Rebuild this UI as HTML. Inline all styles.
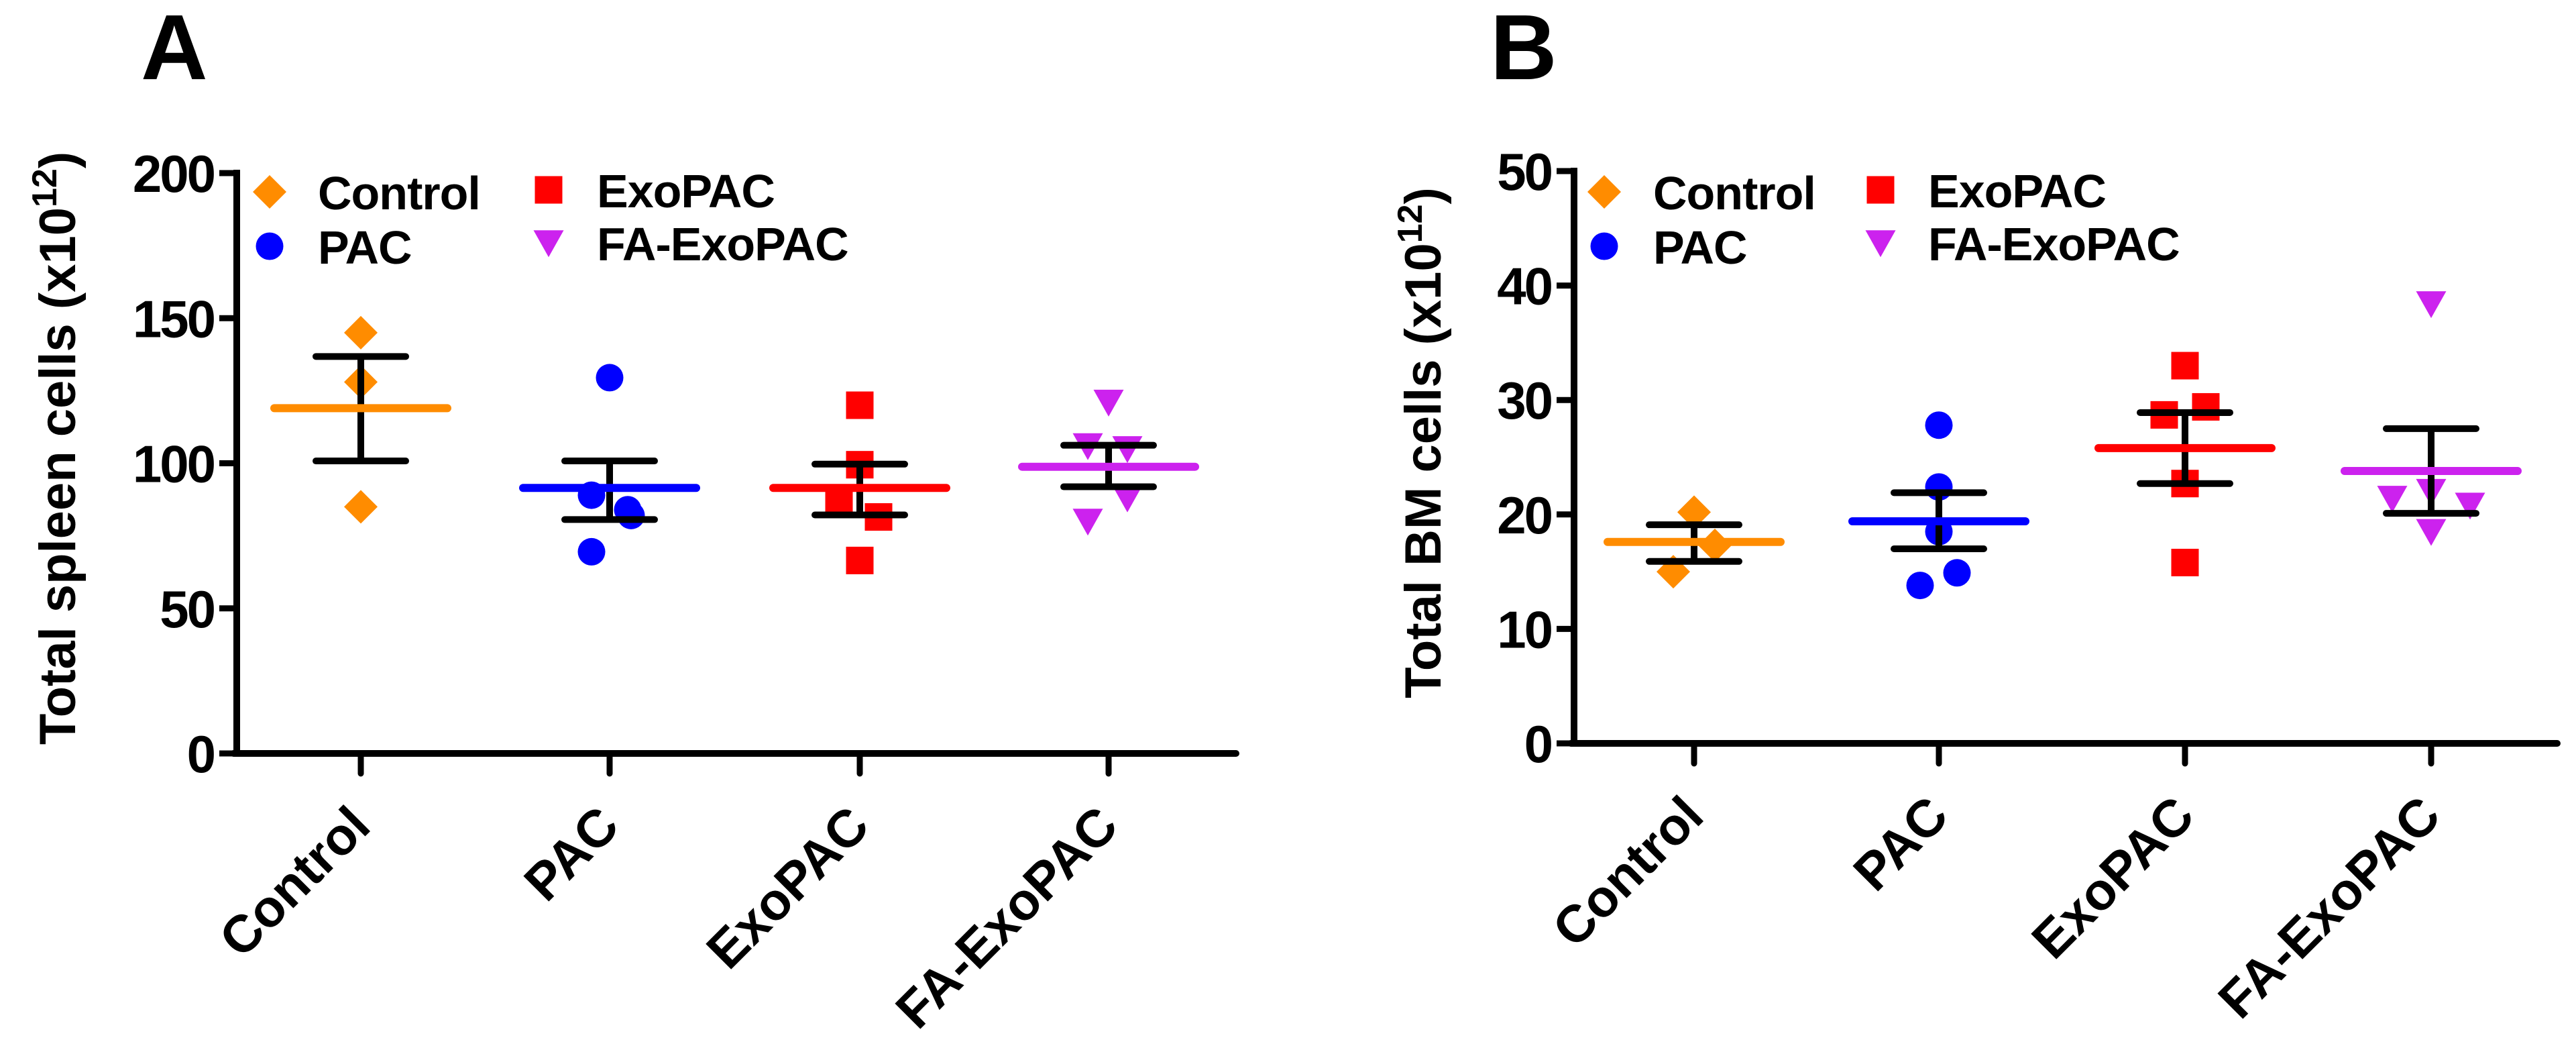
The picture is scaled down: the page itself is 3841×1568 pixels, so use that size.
<!DOCTYPE html>
<html><head><meta charset="utf-8"><style>
html,body{margin:0;padding:0;background:#fff;}
svg{display:block;font-family:"Liberation Sans",Arial,sans-serif;font-weight:bold;}
</style></head><body>
<svg id="fig" width="3841" height="1568" viewBox="0 0 3841 1568"></svg>
<script>
const categories = ["Control","PAC","ExoPAC","FA-ExoPAC"];
const colors = ["#ff8c00","#0000ff","#ff0000","#cc22ee"];
const markers = ["diamond","circle","square","triangle"];
// Panel A values
const spleenPoints = [[145,128,85],[129.5,89,84,82,69.5],[120,99.5,87,81.5,66.5],[121,106,105,88,80]];
const spleenMean = [119,91.5,91.5,98.8];
const spleenSemHi = [136.8,100.8,99.7,106.2];
const spleenSemLo = [100.8,80.6,82.2,91.9];
const spleenTicks = [0,50,100,150,200];
// Panel B values
const bmPoints = [[20.2,17.3,15.0],[27.8,22.4,18.5,14.9,13.8],[33.0,29.4,28.7,22.7,15.8],[38.4,21.4,22.0,20.8,18.5]];
const bmMean = [17.6,19.4,25.8,23.8];
const bmSemHi = [19.1,21.9,28.9,27.5];
const bmSemLo = [15.9,17.0,22.7,20.1];
const bmTicks = [0,10,20,30,40,50];

const NS="http://www.w3.org/2000/svg";
const svg=document.getElementById('fig');
function mk(tag,attrs,parent){const e=document.createElementNS(NS,tag);for(const k in attrs)e.setAttribute(k,attrs[k]);(parent||svg).appendChild(e);return e;}
function marker(type,cx,cy,s,color,parent){
  let e;
  if(type==="diamond")e=mk('polygon',{points:`${cx},${cy-s} ${cx+s},${cy} ${cx},${cy+s} ${cx-s},${cy}`,fill:color},parent);
  else if(type==="circle")e=mk('circle',{cx:cx,cy:cy,r:s*0.82,fill:color},parent);
  else if(type==="square")e=mk('rect',{x:cx-s*0.82,y:cy-s*0.82,width:s*1.64,height:s*1.64,fill:color},parent);
  else e=mk('polygon',{points:`${cx-s*0.9},${cy-s*0.75} ${cx+s*0.9},${cy-s*0.75} ${cx},${cy+s*0.85}`,fill:color},parent);
  return e;
}
const jitterA=[[0,0,0],[0,-27,27,32,-27],[0,0,-31,28,0],[0,-31,28,28,-31]];
const jitterB=[[0,31,-31],[0,0,0,27,-28],[0,31,-31,0,0],[0,-58,0,58,0]];
function panel(cfg){
  const g=mk('g',{});
  
  
  const y=v=>cfg.y0-(v-cfg.min)/(cfg.max-cfg.min)*(cfg.y0-cfg.yTop);
  const xs=cfg.cats;
  const L=mk('text',{x:cfg.letterX,y:118,'font-size':138,fill:'#000'},g);L.textContent=cfg.letter;
  
  
  const ax=mk('g',{},g);
  
  
  mk('line',{x1:cfg.ax,y1:cfg.yTop-5,x2:cfg.ax,y2:cfg.y0+5,stroke:'#000','stroke-width':10},ax);
  mk('line',{x1:cfg.ax-5,y1:cfg.y0,x2:cfg.xEnd,y2:cfg.y0,stroke:'#000','stroke-width':10,'stroke-linecap':'round'},ax);
  cfg.ticks.forEach(t=>{
    mk('line',{x1:cfg.ax-26,y1:y(t),x2:cfg.ax,y2:y(t),stroke:'#000','stroke-width':9},ax);
    const tx=mk('text',{x:cfg.ax-34,y:y(t)+28,'font-size':78,'text-anchor':'end',fill:'#000','letter-spacing':-3},ax);tx.textContent=t;
    
    
  });
  xs.forEach((x,i)=>{
    mk('line',{x1:x,y1:cfg.y0,x2:x,y2:cfg.y0+30,stroke:'#000','stroke-width':9,'stroke-linecap':'round'},ax);
    const tx=mk('text',{x:0,y:0,'font-size':78,'text-anchor':'end',fill:'#000',transform:`translate(${x+18},${cfg.y0+112}) rotate(-45)`},ax);
    tx.textContent=categories[i];
    
    
  });
  const yt=mk('text',{x:0,y:0,'font-size':76,'text-anchor':'middle',fill:'#000',transform:`translate(${cfg.titleX},${cfg.titleY}) rotate(-90)`},g);
  
  
  yt.innerHTML=cfg.title+' (x10<tspan dy="-28" font-size="52">12</tspan><tspan dy="28">)</tspan>';
  xs.forEach((x,i)=>{
    const grp=mk('g',{},g);
    
    
    cfg.points[i].forEach((v,j)=>{
      const m=marker(markers[i],x+cfg.jit[i][j],y(v),25,colors[i],grp);
      
      
    });
    const s=mk('g',{},grp);
    
    
    mk('line',{x1:x,y1:y(cfg.hi[i]),x2:x,y2:y(cfg.lo[i]),stroke:'#000','stroke-width':10},s);
    mk('line',{x1:x-67,y1:y(cfg.hi[i]),x2:x+67,y2:y(cfg.hi[i]),stroke:'#000','stroke-width':10,'stroke-linecap':'round'},s);
    mk('line',{x1:x-67,y1:y(cfg.lo[i]),x2:x+67,y2:y(cfg.lo[i]),stroke:'#000','stroke-width':10,'stroke-linecap':'round'},s);
    const ml=mk('line',{x1:x-129,y1:y(cfg.mean[i]),x2:x+129,y2:y(cfg.mean[i]),stroke:colors[i],'stroke-width':12,'stroke-linecap':'round'},grp);
    
    
  });
  const lg=mk('g',{},g);
  
  
  const lpos=[[cfg.lx1,cfg.tx1,286],[cfg.lx1,cfg.tx1,367],[cfg.lx2,cfg.tx2,283],[cfg.lx2,cfg.tx2,362]];
  [0,1,2,3].forEach(k=>{
    const e=mk('g',{},lg);
    
    
    marker(markers[k],lpos[k][0],lpos[k][2],25,colors[k],e);
    const t=mk('text',{x:lpos[k][1],y:lpos[k][2]+26,'font-size':70,fill:'#000','letter-spacing':-1},e);t.textContent=categories[k];
  });
}
panel({name:'panel-a-spleen',letter:'A',letterX:210,ax:353,y0:1123,yTop:258,min:0,max:200,xEnd:1843,cats:[538,909,1282,1653],
  ticks:spleenTicks,points:spleenPoints,mean:spleenMean,hi:spleenSemHi,lo:spleenSemLo,jit:jitterA,
  title:'Total spleen cells',titleX:112,titleY:668,lx1:402,tx1:474,lx2:818,tx2:890});
panel({name:'panel-b-bm',letter:'B',letterX:2222,ax:2347,y0:1108,yTop:255,min:0,max:50,xEnd:3813,cats:[2526,2891,3258,3625],
  ticks:bmTicks,points:bmPoints,mean:bmMean,hi:bmSemHi,lo:bmSemLo,jit:jitterB,
  title:'Total BM cells',titleX:2148,titleY:660,lx1:2392,tx1:2465,lx2:2804,tx2:2875});
</script>
</body></html>
